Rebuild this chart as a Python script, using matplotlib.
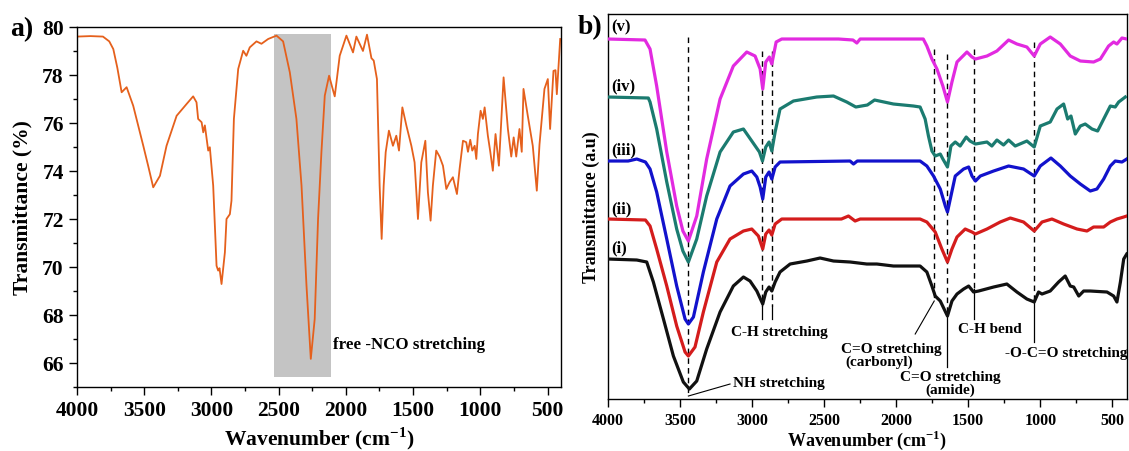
import matplotlib
matplotlib.use("Agg")
import matplotlib.pyplot as plt
import numpy as np

plt.rcParams["font.family"] = ["Liberation Serif", "DejaVu Serif"]
plt.rcParams["font.weight"] = "bold"
plt.rcParams["mathtext.fontset"] = "custom"
plt.rcParams["mathtext.rm"] = "Liberation Serif:bold"
plt.rcParams["mathtext.bf"] = "Liberation Serif:bold"

# ---- panel a: single FTIR spectrum ----
wn_a = [4000, 3900, 3807, 3760, 3730, 3700, 3668, 3631, 3582, 3507, 3470, 3433, 3383, 3334,
        3259, 3185, 3136, 3111, 3099, 3073, 3061, 3049, 3024, 3012, 2987, 2962, 2950, 2940,
        2925, 2900, 2888, 2863, 2851, 2833, 2801, 2764, 2740, 2715, 2665, 2628, 2578, 2516,
        2467, 2417, 2368, 2330, 2293, 2261, 2232, 2207, 2182, 2157, 2125, 2095, 2083, 2046,
        1996, 1947, 1922, 1873, 1843, 1810, 1793, 1769, 1749, 1734, 1719, 1704, 1680, 1650,
        1625, 1605, 1580, 1550, 1513, 1489, 1464, 1439, 1409, 1390, 1370, 1353, 1328, 1303,
        1278, 1253, 1229, 1204, 1174, 1154, 1129, 1105, 1092, 1075, 1060, 1042, 1030, 1018,
        998, 981, 968, 944, 926, 907, 887, 862, 827, 795, 770, 752, 733, 709, 692, 679, 647,
        610, 580, 560, 523, 498, 481, 456, 441, 431, 406]
trans_a = [79.6, 79.62, 79.6, 79.4, 79.08, 78.3, 77.28, 77.49, 76.72, 75.05, 74.2, 73.32, 73.8, 75.05,
           76.3, 76.79, 77.11, 76.86, 76.17, 76.03, 75.61, 75.9, 74.85, 74.99, 73.39, 70.05, 69.85, 69.95,
           69.29, 70.61, 72.0, 72.2, 72.76, 76.17, 78.25, 79.01, 78.8, 79.15, 79.4, 79.3, 79.5, 79.64,
           79.4, 78.11, 76.17, 73.39, 69.22, 66.17, 67.83, 72.0, 74.78, 77.14, 77.97, 77.35, 77.11, 78.8,
           79.64, 78.94, 79.6, 79.0, 79.68, 78.7, 78.6, 77.83, 73.39, 71.17, 73.39, 74.78, 75.68, 75.05,
           75.47, 74.85, 76.65, 75.89, 75.05, 74.36, 72.0, 74.36, 75.26, 73.11, 71.93, 73.39, 74.85, 74.6,
           74.22, 73.25, 73.53, 73.74, 73.04, 74.1, 75.26, 75.2, 74.8, 75.3, 74.85, 75.05, 74.5, 75.54,
           76.51, 76.17, 76.65, 75.47, 74.8, 74.01, 75.54, 74.22, 77.9, 75.75, 74.6, 75.4, 74.6, 75.75,
           74.8, 77.42, 76.3, 75.05, 73.18, 75.1, 77.42, 77.83, 75.75, 78.17, 78.2, 77.2, 79.5]
nco_band = (2536, 2113)

# ---- panel b: five stacked spectra (arbitrary units) ----
wn_v = [4000, 3743, 3708, 3662, 3592, 3523, 3480, 3442, 3384, 3315, 3222, 3130, 3037, 2979, 2944,
        2926, 2905, 2880, 2863, 2833, 2794, 2400, 2300, 2273, 2250, 1812, 1787, 1752, 1717, 1676,
        1644, 1613, 1578, 1509, 1474, 1450, 1370, 1301, 1220, 1162, 1093, 1042, 1000, 931, 861,
        792, 722, 630, 583, 526, 491, 468, 433, 400]
t_v = [360, 359, 350, 313, 247, 193, 168, 158, 183, 240, 300, 333, 347, 343, 330,
       310, 337, 342, 335, 357, 360, 360, 359, 356, 360, 360, 353, 340, 330, 313,
       297, 317, 337, 347, 342, 340, 343, 348, 359, 355, 352, 343, 355, 362, 355,
       343, 338, 337, 340, 353, 357, 355, 361, 360]

wn_iv = [4000, 3720, 3708, 3662, 3592, 3523, 3480, 3442, 3384, 3315, 3222, 3130, 3060, 3002, 2949,
         2928, 2905, 2882, 2863, 2840, 2806, 2713, 2551, 2435, 2343, 2280, 2200, 2150, 2019, 1880,
         1834, 1799, 1776, 1752, 1729, 1694, 1676, 1644, 1620, 1590, 1556, 1514, 1488, 1450, 1370,
         1336, 1301, 1255, 1220, 1174, 1093, 1042, 1000, 931, 884, 838, 810, 787, 757, 722, 688,
         641, 602, 560, 514, 480, 456, 410]
t_iv = [302, 301, 297, 270, 217, 170, 148, 137, 160, 203, 247, 267, 270, 258, 247,
        238, 252, 257, 248, 267, 290, 298, 302, 303, 297, 292, 294, 299, 295, 293,
        292, 280, 263, 248, 243, 245, 240, 232, 253, 257, 253, 262, 258, 255, 257,
        253, 259, 254, 259, 253, 258, 252, 273, 277, 290, 295, 280, 283, 265, 273, 275,
        270, 268, 280, 293, 292, 297, 302]

wn_iii = [4000, 3860, 3800, 3740, 3708, 3662, 3592, 3523, 3465, 3442, 3407, 3338, 3245, 3153, 3060,
          3002, 2967, 2944, 2926, 2905, 2882, 2863, 2840, 2806, 2320, 2296, 2270, 1834, 1787, 1741,
          1694, 1659, 1644, 1620, 1590, 1532, 1497, 1474, 1450, 1416, 1324, 1220, 1116, 1042, 1000,
          926, 861, 792, 722, 653, 607, 560, 514, 480, 433, 400]
t_iii = [238, 238, 240, 237, 230, 207, 160, 113, 80, 75, 82, 127, 180, 213, 225,
         228, 222, 212, 200, 222, 227, 220, 232, 237, 238, 235, 238, 238, 233, 223,
         210, 193, 187, 203, 223, 230, 232, 223, 218, 223, 228, 233, 230, 223, 233,
         241, 233, 223, 215, 208, 210, 220, 233, 238, 237, 240]

wn_ii = [4000, 3740, 3708, 3662, 3592, 3523, 3465, 3442, 3396, 3338, 3245, 3153, 3060, 3002, 2956,
         2926, 2905, 2882, 2863, 2840, 2794, 2380, 2331, 2285, 2250, 1834, 1787, 1729, 1683, 1644,
         1613, 1578, 1521, 1474, 1450, 1370, 1278, 1208, 1116, 1042, 988, 919, 838, 745, 676, 630,
         560, 514, 468, 421, 400]
t_ii = [180, 179, 173, 150, 113, 73, 47, 43, 52, 87, 137, 160, 168, 170, 163,
        150, 165, 169, 164, 175, 180, 180, 183, 178, 180, 180, 177, 167, 150, 137,
        150, 162, 170, 167, 165, 170, 177, 181, 177, 168, 177, 180, 175, 170, 168, 172,
        172, 177, 180, 182, 183]

wn_i = [4000, 3800, 3731, 3685, 3615, 3546, 3477, 3435, 3384, 3315, 3222, 3130, 3060, 3014, 2967,
        2926, 2905, 2882, 2863, 2840, 2806, 2736, 2620, 2528, 2435, 2319, 2204, 2134, 2019, 1834,
        1787, 1752, 1729, 1694, 1644, 1613, 1578, 1532, 1497, 1463, 1428, 1324, 1232, 1162, 1093,
        1042, 1012, 988, 931, 873, 827, 792, 768, 733, 699, 653, 537, 491, 468, 444, 421, 400]
t_i = [140, 139, 137, 117, 80, 43, 17, 10, 18, 50, 87, 113, 122, 118, 108,
       95, 107, 112, 108, 117, 127, 135, 138, 141, 138, 137, 135, 135, 133, 133,
       127, 113, 103, 98, 83, 98, 105, 110, 113, 107, 108, 112, 115, 107, 100,
       97, 107, 105, 108, 117, 123, 113, 112, 103, 108, 108, 107, 103, 97, 117, 140, 145]

series_b = [
    ("(v)", wn_v, t_v, "#e22ae0"),
    ("(iv)", wn_iv, t_iv, "#1b7b70"),
    ("(iii)", wn_iii, t_iii, "#1212cc"),
    ("(ii)", wn_ii, t_ii, "#d41c1c"),
    ("(i)", wn_i, t_i, "#111111"),
]
label_heights = [373, 314, 250, 191, 152]

# peak guide lines: wavenumber, dashed top, dashed bottom, solid bottom
guides = [(2928, 348, 93, 80), (2861, 348, 93, 80), (1644, 345, 90, 32),
          (1463, 350, 110, 80), (1042, 357, 100, 57)]

xlabel = r"Wavenumber (cm$^{\mathbf{-1}}$)"

fig = plt.figure(figsize=(11.29, 4.52), dpi=100)

# ---------------- panel a ----------------
ax1 = fig.add_axes([0.0682, 0.1416, 0.4287, 0.7965])
ax1.fill_between(nco_band, 65.4, 79.7, color="#c4c4c4", lw=0, zorder=1)
ax1.plot(wn_a, trans_a, color="#e5601c", lw=1.3, zorder=2)
ax1.set_xlim(4000, 400)
ax1.set_ylim(65, 80)
ax1.set_xticks(np.arange(4000, 400, -500))
ax1.set_xticks(np.arange(3750, 400, -500), minor=True)
ax1.set_yticks(np.arange(66, 81, 2))
ax1.set_yticks(np.arange(65, 80, 2), minor=True)
ax1.tick_params(which="both", direction="out", width=1.0, labelsize=15.5)
ax1.tick_params(which="major", length=6)
ax1.tick_params(which="minor", length=3)
ax1.set_xlabel(xlabel, fontsize=15.5, fontweight="bold", labelpad=3)
ax1.set_ylabel("Transmittance (%)", fontsize=15.5, fontweight="bold", labelpad=7)
for s in ax1.spines.values():
    s.set_linewidth(1.0)
ax1.text(2095, 66.8, "free -NCO stretching", fontsize=12.2, fontweight="bold", va="center")
fig.text(0.009, 0.935, "a)", fontsize=20, fontweight="bold", va="center")

# ---------------- panel b ----------------
ax2 = fig.add_axes([0.5385, 0.115, 0.4595, 0.8518])
for (name, wn, tr, col), lh in zip(series_b, label_heights):
    ax2.plot(wn, tr, color=col, lw=2.3, zorder=3)
    ax2.text(3975, lh, name, fontsize=12, fontweight="bold", va="center", ha="left")

ax2.plot([3442, 3442], [362, 5], color="k", lw=1.0, ls=(0, (4, 3)), zorder=2)
ax2.plot([3442, 3153], [3, 15], color="k", lw=0.8)
ax2.text(3132, 17, "NH stretching", fontsize=11, fontweight="bold", va="center", ha="left")

for w, top, mid, bot in guides:
    ax2.plot([w, w], [top, mid], color="k", lw=1.0, ls=(0, (4, 3)), zorder=2)
    ax2.plot([w, w], [mid, bot], color="k", lw=0.9, zorder=2)
ax2.plot([1736, 1736], [350, 100], color="k", lw=1.0, ls=(0, (4, 3)), zorder=2)
ax2.plot([1736, 1868], [98, 65], color="k", lw=0.8)

ann = dict(fontsize=11, fontweight="bold", ha="center", va="center")
ax2.text(2813, 68, "C-H stretching", **ann)
ax2.text(2035, 51, "C=O stretching", **ann)
ax2.text(2120, 38, "(carbonyl)", **ann)
ax2.text(1625, 23, "C=O stretching", **ann)
ax2.text(1625, 10, "(amide)", **ann)
ax2.text(1347, 71, "C-H bend", **ann)
ax2.text(820, 47, "-O-C=O stretching", **ann)

ax2.set_xlim(4000, 400)
ax2.set_ylim(0, 385)
ax2.set_xticks(np.arange(4000, 400, -500))
ax2.set_xticks(np.arange(3750, 400, -500), minor=True)
ax2.set_yticks([])
ax2.tick_params(which="both", direction="out", width=1.0, labelsize=11.5)
ax2.tick_params(which="major", length=6, pad=3)
ax2.tick_params(which="minor", length=3)
ax2.set_xlabel(xlabel, fontsize=13, fontweight="bold", labelpad=0)
ax2.set_ylabel("Transmittance (a.u)", fontsize=13, fontweight="bold", labelpad=6)
for s in ax2.spines.values():
    s.set_linewidth(1.0)
fig.text(0.512, 0.94, "b)", fontsize=20, fontweight="bold", va="center")

fig.savefig("out.png", dpi=100)
